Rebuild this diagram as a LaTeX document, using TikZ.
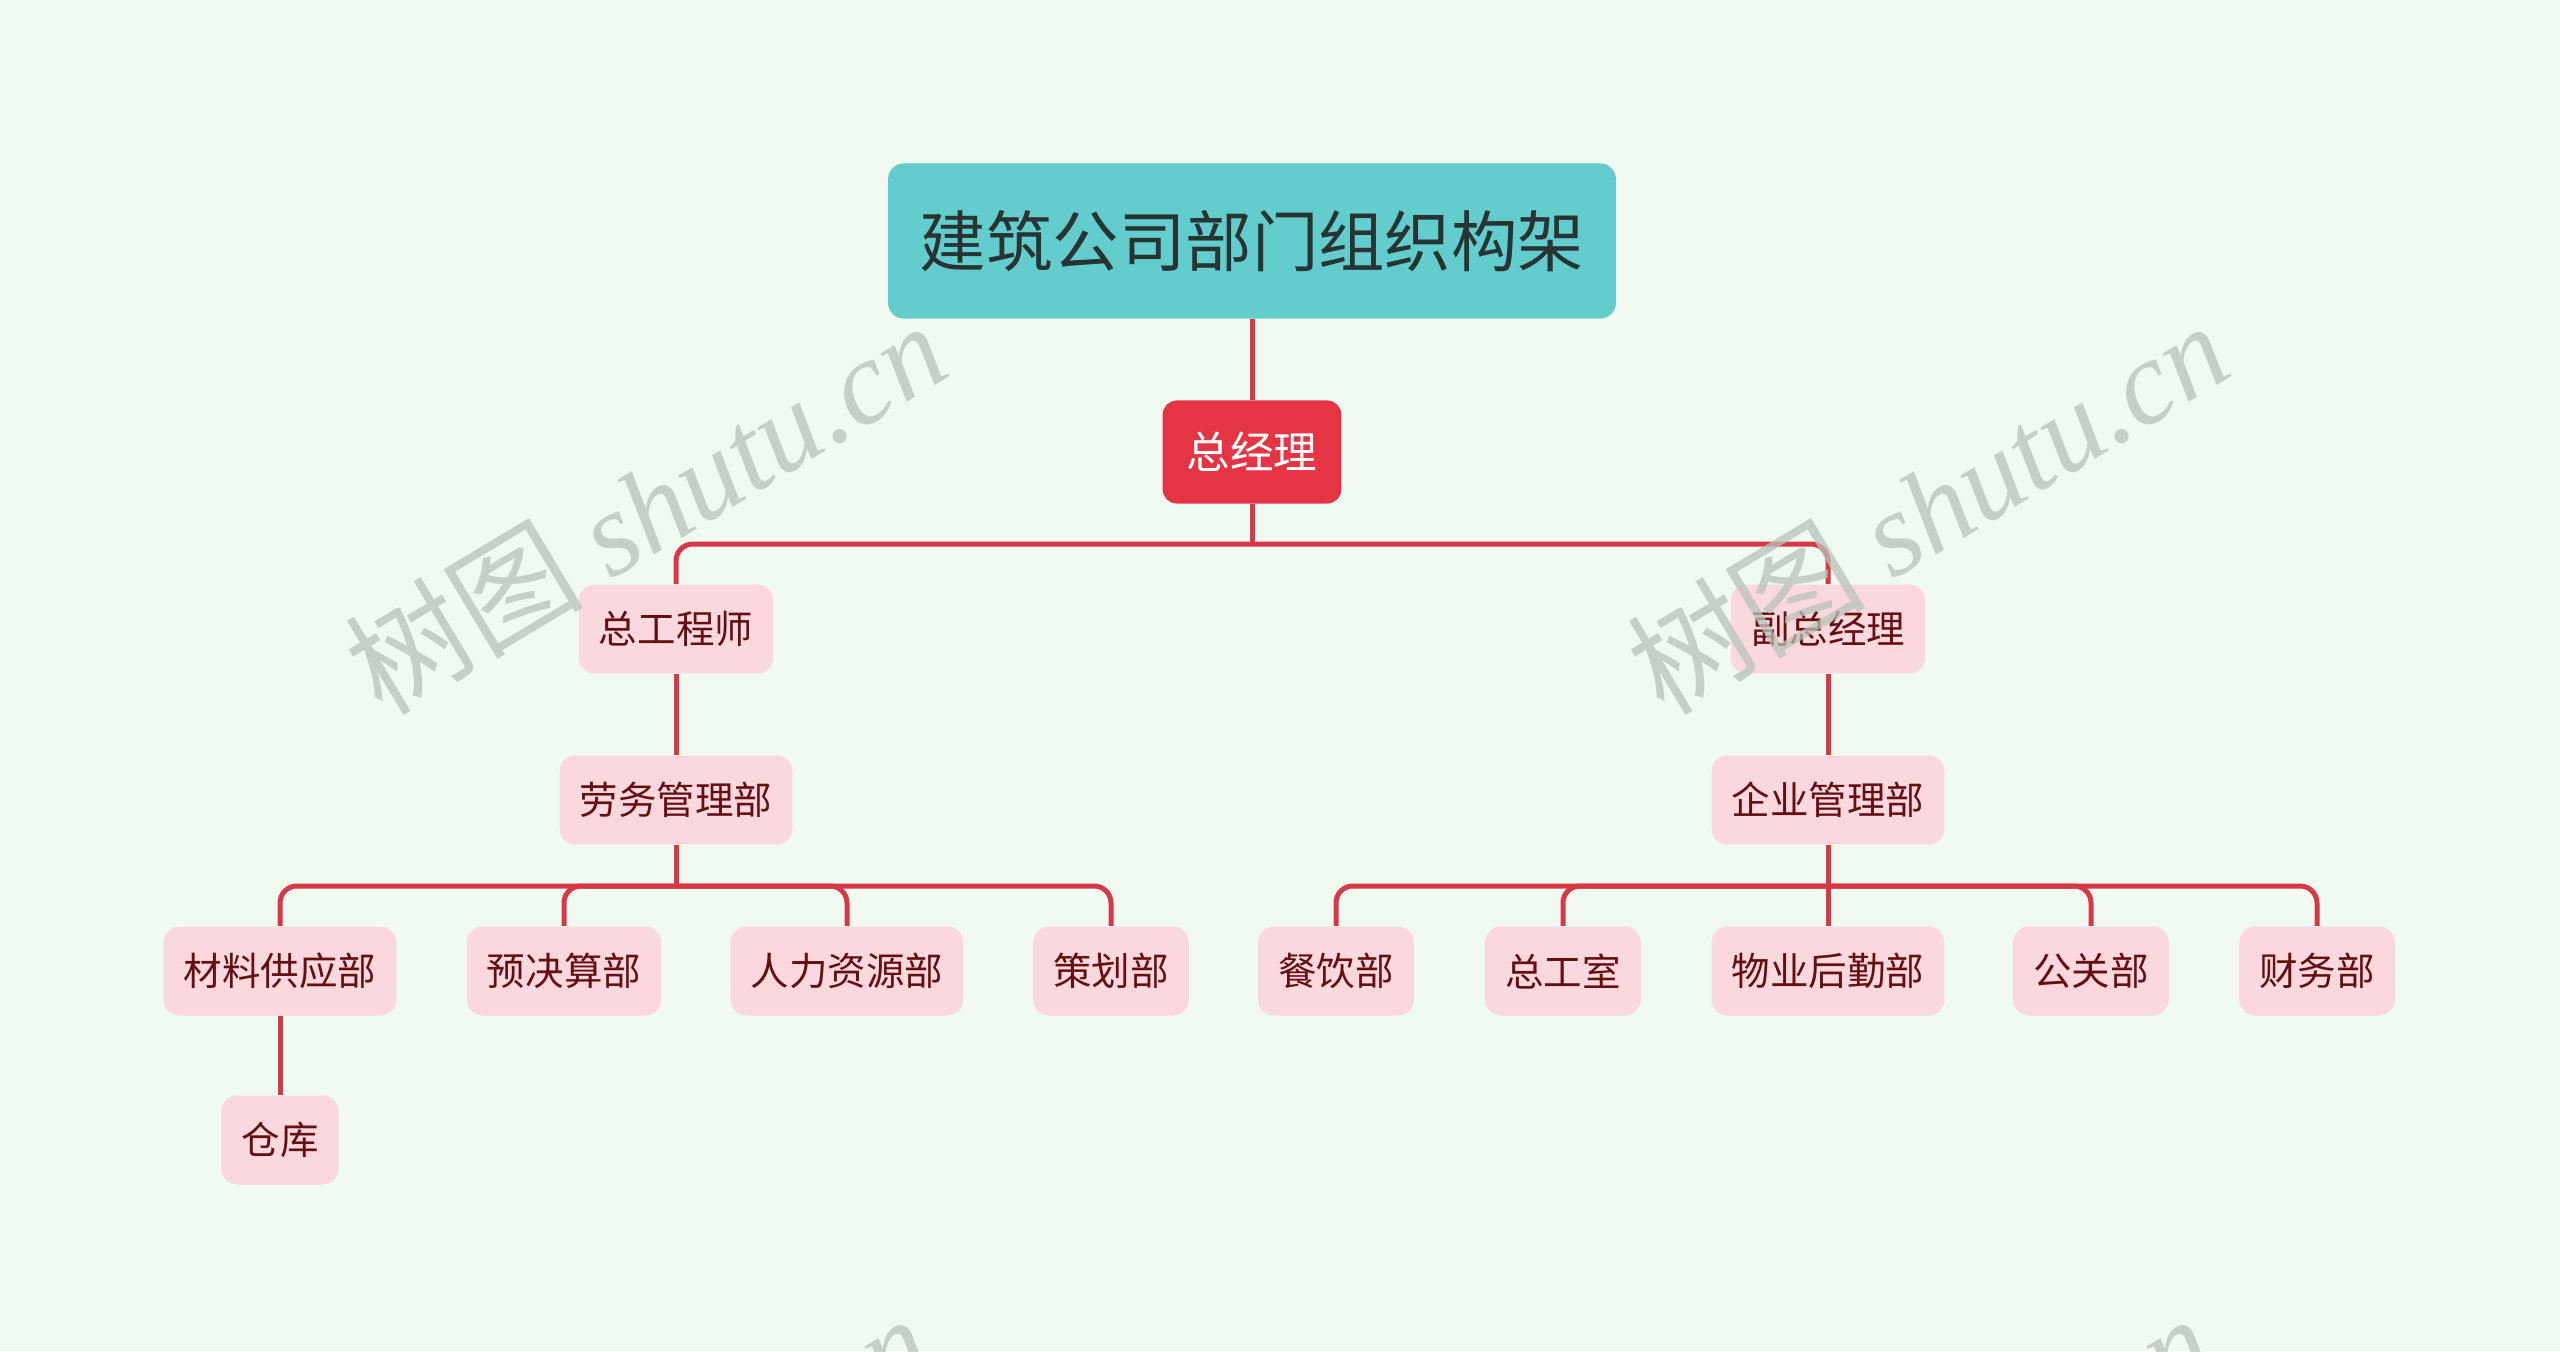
\documentclass[tikz,border=0pt]{standalone}
\usepackage{fontspec}
\usepackage{xcolor}
\usepackage{tikz}
\newfontfamily\cjk{Noto Sans CJK SC}
\newfontfamily\wmserif{Liberation Serif}
\definecolor{BoardBg}{RGB}{240,250,240}
\definecolor{TitleTeal}{RGB}{99,204,204}
\definecolor{TitleInk}{RGB}{40,52,52}
\definecolor{ChiefRed}{RGB}{229,53,69}
\definecolor{DeptPink}{RGB}{251,216,221}
\definecolor{DeptInk}{RGB}{100,15,20}
\definecolor{LinkRed}{RGB}{215,55,70}
\definecolor{WmGrey}{RGB}{185,195,185}

\begin{document}
\begin{tikzpicture}[x=0.01cm,y=-0.01cm,
  titlebox/.style={fill=TitleTeal,text=TitleInk,rounded corners=4.5pt,
    font=\cjk\fontsize{18.9}{22}\selectfont,inner sep=0pt,minimum width=207pt,minimum height=44.1pt},
  chiefbox/.style={fill=ChiefRed,text=white,rounded corners=4pt,
    font=\cjk\fontsize{12.4}{15}\selectfont,inner xsep=6.8pt,inner ysep=0pt,minimum height=29.3pt},
  deptbox/.style={fill=DeptPink,text=DeptInk,rounded corners=4.5pt,
    font=\cjk\fontsize{10.95}{13}\selectfont,inner xsep=5.7pt,inner ysep=0pt,minimum height=25.3pt},
  link/.style={draw=LinkRed,line width=1.42pt,rounded corners=4.8pt},
  wmtext/.style={text=WmGrey,text opacity=0.75,rotate=31,font=\fontsize{34}{36}\selectfont}]

  % Background and page size
  \fill[BoardBg] (0,0) rectangle (2560,1351);
  \useasboundingbox (0,0) rectangle (2560,1351);

  % Top of the tree
  \node[titlebox] (top) at (1252,241) {建筑公司部门组织构架};
  \node[chiefbox] (gm) at (1252,452) {总经理};

  % Second and third level
  \node[deptbox] (ce) at (676,629) {总工程师};
  \node[deptbox] (vgm) at (1828,629) {副总经理};
  \node[deptbox] (lw) at (676,800) {劳务管理部};
  \node[deptbox] (qy) at (1828,800) {企业管理部};

  % Departments
  \node[deptbox] (cl) at (280,971) {材料供应部};
  \node[deptbox] (yj) at (564,971) {预决算部};
  \node[deptbox] (rl) at (847,971) {人力资源部};
  \node[deptbox] (ch) at (1111,971) {策划部};
  \node[deptbox] (cy) at (1336,971) {餐饮部};
  \node[deptbox] (zg) at (1563,971) {总工室};
  \node[deptbox] (wy) at (1828,971) {物业后勤部};
  \node[deptbox] (gg) at (2091,971) {公关部};
  \node[deptbox] (cw) at (2317,971) {财务部};
  \node[deptbox] (ck) at (280,1140) {仓库};

  % Connectors
  \draw[link] (top) -- (gm);
  \draw[link] (gm) -- (gm.south |- 0,544) coordinate (jgm);
  \foreach \c in {ce,vgm}
    \draw[link] (jgm) -| (\c.north);
  \draw[link] (ce) -- (lw);
  \draw[link] (vgm) -- (qy);
  \draw[link] (lw) -- (lw.south |- 0,886) coordinate (jlw);
  \foreach \c in {cl,yj,rl,ch}
    \draw[link] (jlw) -| (\c.north);
  \draw[link] (qy) -- (qy.south |- 0,886) coordinate (jqy);
  \foreach \c in {cy,zg,gg,cw}
    \draw[link] (jqy) -| (\c.north);
  \draw[link] (jqy) -- (wy);
  \draw[link] (cl) -- (ck);

  % Watermarks
  \foreach \x/\y in {645/507,1927/507,629/1500,1911/1500}
    \node[wmtext] at (\x,\y) {\cjk 树图 \wmserif\itshape shutu.cn};
\end{tikzpicture}
\end{document}
